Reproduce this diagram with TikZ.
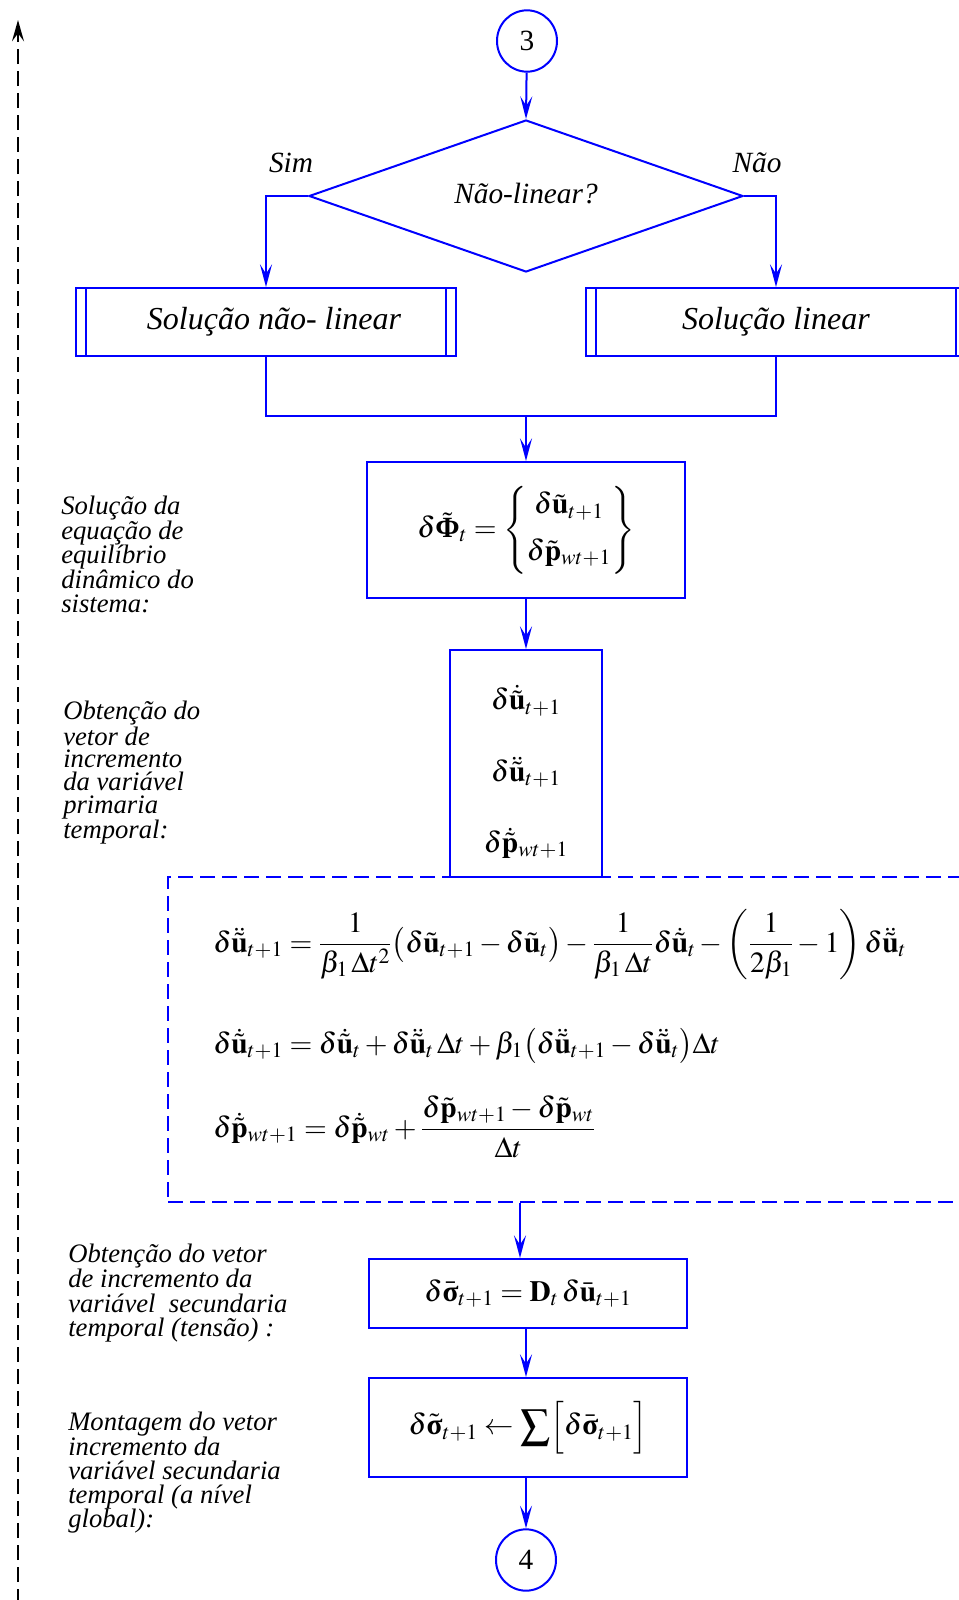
\documentclass[tikz,border=0pt]{standalone}
\usepackage{amsmath}
\usepackage{mathptmx}
\usepackage{fontspec}
\setmainfont{Liberation Serif}
\usetikzlibrary{shapes.geometric,arrows.meta}
\newcommand{\myU}{\delta\tilde{\mathbf{u}}}
\newcommand{\myUd}{\delta\dot{\tilde{\mathbf{u}}}}
\newcommand{\myUdd}{\delta\ddot{\tilde{\mathbf{u}}}}
\newcommand{\myP}{\delta\tilde{\mathbf{p}}}
\newcommand{\myPd}{\delta\dot{\tilde{\mathbf{p}}}}
\begin{document}
\begin{tikzpicture}[x=0.75pt,y=-0.75pt,
  bl/.style={draw=blue, line width=1.5pt},
  arr/.style={blue, line width=1.5pt, -{Stealth[length=17pt,width=9pt,inset=7pt]}},
  box/.style={bl, rectangle, inner sep=0pt, fill=white},
  conn/.style={bl, ellipse, minimum width=45pt, minimum height=46pt, inner sep=0pt, font=\fontsize{22}{26}\selectfont},
  side/.style={anchor=north west, align=left, inner sep=0pt, font=\fontsize{20}{18.4}\selectfont\itshape},
  lab/.style={font=\fontsize{22}{26}\selectfont\itshape, inner sep=0pt},
  boxtxt/.style={font=\fontsize{24}{28}\selectfont\itshape},
  mth/.style={font=\fontsize{22}{26}\selectfont, inner sep=0pt}]
\useasboundingbox (0,0) rectangle (959,1600);
\clip (0,0) rectangle (959,1600);

% left dashed return arrow
\coordinate (lb) at (18,1604);
\coordinate (lt) at (18,20);
\draw[black, line width=1.5pt, dash pattern=on 11.25pt off 5.25pt, -{Stealth[length=16pt,width=9pt,inset=6pt]}] (lb) -- (lt);

% connector 3 and decision
\node[conn] (c3) at (527,41) {3};
\node[bl, diamond, minimum width=325.5pt, minimum height=114pt, inner sep=0pt] (dia) at (526,196) {};
\node[lab] (dlab) at (526,194) {Não-linear?};
\node[lab] (sim) at (291,163) {Sim};
\node[lab] (nao) at (757,163) {Não};

% solution boxes
\node[box, minimum width=285pt, minimum height=51pt, boxtxt] (L) at (266,322) {\hspace*{12pt}Solução não- linear};
\node[box, minimum width=285pt, minimum height=51pt, boxtxt] (R) at (776,322) {Solução linear};
\draw[bl] ([xshift=8.25pt]L.north west) -- ([xshift=8.25pt]L.south west);
\draw[bl] ([xshift=-8.25pt]L.north east) -- ([xshift=-8.25pt]L.south east);
\draw[bl] ([xshift=8.25pt]R.north west) -- ([xshift=8.25pt]R.south west);
\draw[bl] ([xshift=-8.25pt]R.north east) -- ([xshift=-8.25pt]R.south east);

\draw[arr] (c3) -- (dia.north);
\draw[arr] (dia.west) -| (L.north);
\draw[arr] (dia.east) -| (R.north);

% equilibrium
\node[box, minimum width=238.5pt, minimum height=102pt, mth] (phi) at (526,530)
  {$\delta\tilde{\textbf{Φ}}_t = \left\{\begin{matrix}\myU_{t+1}\\[9pt]\myP_{wt+1}\end{matrix}\right\}$};
\coordinate (mrg) at (526,416);
\draw[bl] (L.south) |- (mrg) -| (R.south);
\draw[arr] (mrg) -- (phi.north);

% primary variable
\node[box, minimum width=114pt, minimum height=170.25pt] (dot) at (526,763.5) {};
\node[font=\fontsize{22}{53.6}\selectfont, align=center, inner sep=0pt] (dott) at (526,772)
  {$\myUd_{t+1}$\\ $\myUdd_{t+1}$\\ $\myPd_{wt+1}$};
\draw[arr] (phi) -- (dot);

% dashed equations box
\node[draw=blue, line width=1.5pt, dash pattern=on 11.25pt off 5.25pt, minimum width=605.25pt, minimum height=243.75pt, inner sep=0pt] (dbx) at (571.5,1039.5) {};
\node[mth, anchor=base west] (eq1) at (213,952)
  {$\myUdd_{t+1} = \dfrac{1}{\beta_1\,\Delta t^2}\bigl(\myU_{t+1}-\myU_t\bigr) - \dfrac{1}{\beta_1\,\Delta t}\myUd_t - \left(\dfrac{1}{2\beta_1}-1\right)\myUdd_t$};
\node[mth, anchor=base west] (eq2) at (213,1053)
  {$\myUd_{t+1} = \myUd_t + \myUdd_t\,\Delta t + \beta_1\bigl(\myUdd_{t+1}-\myUdd_t\bigr)\Delta t$};
\node[mth, anchor=base west] (eq3) at (213,1137)
  {$\myPd_{wt+1} = \myPd_{wt} + \dfrac{\myP_{wt+1}-\myP_{wt}}{\Delta t}$};

% secondary variable
\node[box, minimum width=238.5pt, minimum height=51.75pt, mth] (sig) at (528,1293.5)
  {$\delta\bar{\textbf{σ}}_{t+1} = \mathbf{D}_t\,\delta\bar{\mathbf{u}}_{t+1}$};
\node[box, minimum width=238.5pt, minimum height=74.25pt, mth] (sum) at (528,1427.5)
  {$\delta\tilde{\textbf{σ}}_{t+1}\leftarrow\displaystyle\sum\Bigl[\delta\bar{\textbf{σ}}_{t+1}\Bigr]$};
\node[conn] (c4) at (526,1560) {4};
\draw[arr] (520,0 |- dbx.south) -- (520,0 |- sig.north);
\draw[arr] (sig.south -| c4) -- (sum.north -| c4);
\draw[arr] (sum.south -| c4) -- (c4.north);

% side descriptions
\node[side] (t1) at (61,496) {Solução da\\equação de\\equilíbrio\\dinâmico do\\sistema:};
\node[side, font=\fontsize{20}{17}\selectfont\itshape] (t2) at (63,701) {Obtenção do\\vetor de\\incremento\\da variável\\primaria\\temporal:};
\node[side, font=\fontsize{20}{18.5}\selectfont\itshape] (t3) at (68,1244) {Obtenção do vetor\\de incremento da\\variável~ secundaria\\temporal (tensão) :};
\node[side, font=\fontsize{20}{18.2}\selectfont\itshape] (t4) at (68,1412) {Montagem do vetor\\incremento da\\variável secundaria\\temporal (a nível\\global):};
\end{tikzpicture}
\end{document}
